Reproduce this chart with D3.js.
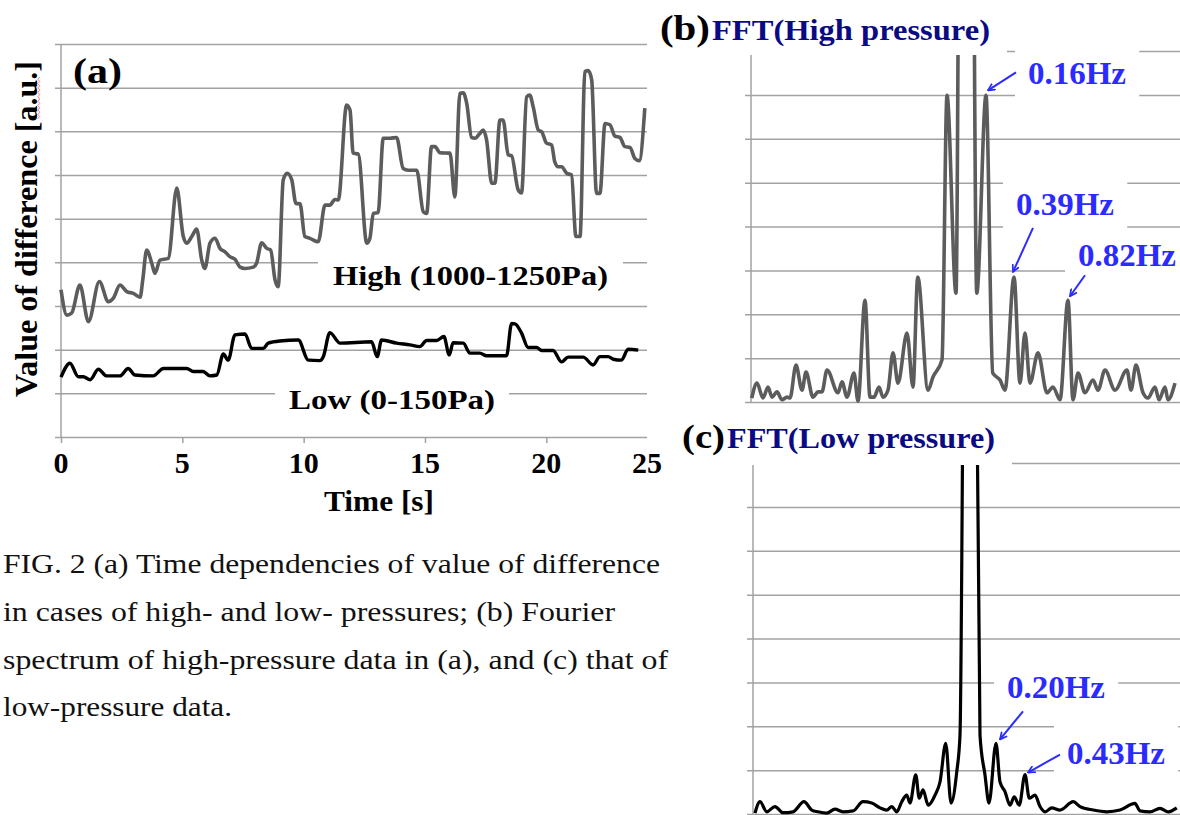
<!DOCTYPE html>
<html><head><meta charset="utf-8">
<script src="https://cdn.jsdelivr.net/npm/d3@7"></script>
<style>body{margin:0;background:#fff}svg{display:block}</style>
</head><body><svg id="chart" width="1180" height="815"></svg>
<script>
// ---------------- DATA ----------------
// (a) time series, time [s] and value of difference [a.u.]
const highT = [0,0.24,0.44,0.78,1.13,1.58,1.95,2.16,2.43,2.71,2.98,3.26,3.37,3.53,3.74,3.87,4.08,4.42,4.77,5.04,5.18,5.39,5.59,5.80,5.93,6.14,6.35,6.55,6.76,6.96,7.17,7.38,7.58,7.92,8.06,8.27,8.48,8.64,8.82,8.95,9.16,9.32,9.51,9.68,9.85,10.05,10.26,10.60,10.88,11.08,11.29,11.43,11.77,11.91,12.04,12.25,12.60,12.73,12.87,13.07,13.28,13.56,13.83,14.10,14.31,14.66,14.93,15.07,15.27,15.41,15.62,16.03,16.23,16.44,16.58,16.72,16.92,17.06,17.26,17.40,17.54,17.75,17.88,18.09,18.22,18.43,18.57,18.84,18.98,19.19,19.32,19.46,19.67,19.81,20.01,20.22,20.35,20.49,20.63,20.84,21.04,21.22,21.39,21.59,21.73,21.87,22.07,22.21,22.42,22.62,22.83,23.03,23.24,23.45,23.65,23.83,24.06];
const highV = [3.37,2.79,2.84,3.48,2.64,3.56,3.10,3.18,3.48,3.33,3.29,3.20,3.60,4.28,3.98,3.75,4.05,4.09,5.70,4.59,4.44,4.59,4.76,4.05,3.86,4.44,4.55,4.32,4.24,4.13,4.07,3.89,3.86,3.89,3.98,4.45,4.32,4.28,3.60,3.44,5.89,6.04,5.89,5.35,5.34,4.59,4.55,4.47,5.31,5.31,5.44,5.43,7.60,7.49,6.50,6.48,4.44,4.55,5.12,5.14,6.84,6.84,6.86,6.15,6.11,6.11,5.16,5.12,6.65,6.65,6.51,6.50,5.50,7.87,7.88,7.64,6.86,6.84,6.95,7.03,6.80,5.81,5.81,7.26,7.26,6.46,6.44,5.66,5.59,7.79,7.83,7.56,7.03,6.99,6.73,6.69,6.30,6.19,6.19,6.04,6.00,4.59,4.59,8.37,8.39,8.18,5.58,5.58,7.18,7.15,6.89,6.86,6.65,6.63,6.38,6.33,7.53];
const lowT = [0,0.37,0.71,0.92,1.20,1.54,1.88,2.43,2.77,3.05,3.80,4.22,5.18,5.45,5.86,6.14,6.42,6.69,6.89,7.17,7.58,7.86,8.34,8.54,9.02,9.78,10.19,10.67,10.81,11.08,11.50,12.80,13.03,13.21,13.83,14.38,14.79,15.07,15.48,15.78,16.00,16.16,16.58,16.85,17.26,17.54,18.36,18.57,18.71,18.98,19.25,19.60,19.81,20.28,20.63,20.90,21.52,21.93,22.21,22.55,22.76,23.10,23.37,23.79];
const lowV = [1.37,1.69,1.38,1.38,1.31,1.55,1.40,1.40,1.57,1.42,1.40,1.57,1.57,1.50,1.50,1.40,1.42,1.90,1.76,2.34,2.36,2.03,2.03,2.15,2.20,2.22,1.76,1.75,1.84,2.39,2.15,2.18,1.84,2.22,2.15,2.11,2.07,2.21,2.21,2.30,1.88,2.16,2.15,1.92,1.92,1.86,1.86,2.60,2.59,2.38,2.05,2.05,1.98,1.98,1.72,1.83,1.83,1.65,1.84,1.84,1.78,1.76,2.01,1.99];
const timeTickLabels = [0,5,10,15,20,25];
const valueTicks = [0,1,2,3,4,5,6,7,8,9];

// (b) FFT of high pressure data: frequency [Hz], amplitude [a.u.]
const freqB = [-1.714,-1.672,-1.624,-1.584,-1.552,-1.512,-1.472,-1.432,-1.408,-1.360,-1.312,-1.280,-1.224,-1.184,-1.152,-1.112,-1.024,-0.992,-0.952,-0.896,-0.864,-0.808,-0.768,-0.736,-0.696,-0.664,-0.624,-0.584,-0.544,-0.472,-0.424,-0.386,-0.304,-0.264,-0.192,-0.152,-0.080,-0.040,0,0.040,0.086,0.160,0.214,0.272,0.312,0.384,0.432,0.472,0.512,0.576,0.648,0.696,0.752,0.816,0.856,0.896,0.952,1.016,1.056,1.112,1.192,1.288,1.320,1.360,1.416,1.456,1.512,1.544,1.592,1.616,1.672];
const ampB = [0.09,0.43,0.09,0.34,0.11,0.23,0.05,0.11,0.09,0.84,0.27,0.68,0.11,0.23,0.23,0.73,0.21,0.46,0.11,0.66,0.02,2.32,0.11,0.11,0.34,0.11,0.27,1.12,0.43,1.57,0.34,2.85,0.27,0.57,0.96,6.99,2.48,18,15,18,2.48,6.99,0.66,0.50,0.27,2.85,0.43,1.57,0.43,1.12,0.21,0.34,0.05,2.32,0.05,0.66,0.21,0.50,0.27,0.73,0.27,0.73,0.27,0.84,0.21,0.09,0.34,0.05,0.34,0.05,0.43];
// (c) FFT of low pressure data
const freqC = [-1.72,-1.68,-1.626,-1.56,-1.496,-1.416,-1.328,-1.266,-1.216,-1.146,-1.08,-1.016,-0.936,-0.856,-0.786,-0.72,-0.666,-0.626,-0.586,-0.546,-0.506,-0.48,-0.434,-0.406,-0.376,-0.334,-0.28,-0.24,-0.194,-0.152,-0.106,-0.08,-0.04,0,0.04,0.08,0.12,0.152,0.208,0.24,0.28,0.32,0.354,0.394,0.44,0.474,0.52,0.56,0.6,0.654,0.72,0.826,0.88,0.986,1.094,1.2,1.32,1.36,1.44,1.52,1.586,1.654];
const ampC = [0.02,0.28,0.05,0.17,0.03,0.05,0.28,0.09,0.05,0.02,0.11,0.05,0.07,0.28,0.25,0.14,0.09,0.17,0.05,0.28,0.43,0.25,0.89,0.36,0.55,0.2,0.43,0.73,1.61,0.25,0.96,1.8,14,12,14,1.8,0.89,0.25,1.61,0.73,0.51,0.2,0.39,0.2,0.9,0.36,0.43,0.17,0.05,0.14,0.09,0.28,0.17,0.09,0.05,0.09,0.24,0.07,0.05,0.13,0.05,0.14];
const fftTicks = [0,1,2,3,4,5,6,7,8];

// annotated peaks (frequency, amplitude, label)
const peaksB = [{f:0.160,v:6.99,label:"0.16Hz"},{f:0.384,v:2.85,label:"0.39Hz"},{f:0.816,v:2.32,label:"0.82Hz"}];
const peaksC = [{f:0.208,v:1.61,label:"0.20Hz"},{f:0.440,v:0.90,label:"0.43Hz"}];

const captionLines = [
  "FIG. 2 (a) Time dependencies of value of difference",
  "in cases of high- and low- pressures; (b) Fourier",
  "spectrum of high-pressure data in (a), and (c) that of",
  "low-pressure data."
];

// ---------------- STYLE / LAYOUT ----------------
function pickFont(cands) {
  const c = document.createElement("canvas").getContext("2d");
  const s = "FIG. 2 (a) Time dependencies mmmwwwiiilll";
  for (const f of cands) {
    for (const fb of ["monospace","sans-serif"]) {
      c.font = `40px ${fb}`; const a = c.measureText(s).width;
      c.font = `40px "${f}", ${fb}`; const b = c.measureText(s).width;
      if (Math.abs(a-b) > 0.5) return f;
    }
  }
  return null;
}
const timesLike = pickFont(["Liberation Serif","Times New Roman","Tinos","Nimbus Roman","Nimbus Roman No9 L","FreeSerif","Times"]);
const SERIF = timesLike ? `"${timesLike}", serif` : `"DejaVu Serif", serif`;
const FS = timesLike ? 1 : 0.88;
const GRID = "#a2a2a2";
const BLUE = "#2b2bff";
const NAVY = "#0a0a84";

const svg = d3.select("#chart");
svg.append("rect").attr("width",1180).attr("height",815).attr("fill","#fff");
const defs = svg.append("defs");
defs.append("marker").attr("id","ah").attr("viewBox","0 0 10 10")
  .attr("refX",9).attr("refY",5).attr("markerWidth",8).attr("markerHeight",8)
  .attr("markerUnits","userSpaceOnUse").attr("orient","auto")
  .append("path").attr("d","M1,1 L9,5 L1,9").attr("fill","none")
  .attr("stroke",BLUE).attr("stroke-width",2.2).attr("stroke-linecap","round");

function text(g, s, x, y, o) {
  const t = g.append("text").attr("x",x).attr("y",y).text(s)
    .style("font-family",SERIF).attr("font-size",o.size*FS)
    .attr("font-weight",o.bold ? "bold" : "normal")
    .attr("fill",o.fill || "#000")
    .attr("text-anchor",o.anchor || "start");
  if (o.len) t.attr("textLength",o.len).attr("lengthAdjust","spacingAndGlyphs");
  if (o.transform) t.attr("transform",o.transform);
  return t;
}
function grid(g, yScale, ticks, x0, x1) {
  g.append("g").attr("transform",`translate(${x0},0)`)
    .call(d3.axisLeft(yScale).tickValues(ticks).tickSize(-(x1-x0)).tickFormat(""))
    .call(a=>a.select(".domain").remove())
    .call(a=>a.selectAll("line").attr("stroke",GRID).attr("stroke-width",1.5));
}
function boxBehind(boxLayer, t, px, py) {
  const b = t.node().getBBox();
  boxLayer.append("rect").attr("x",b.x-px).attr("y",b.y-py)
    .attr("width",b.width+2*px).attr("height",b.height+2*py).attr("fill","#fff");
}

// ================= Panel (a) =================
const xA = d3.scaleLinear().domain([0,24.15]).range([61,647]);
const yA = d3.scaleLinear().domain([0,9]).range([437,44]);
const gA = svg.append("g");
grid(gA, yA, valueTicks, 55, 647);
gA.append("line").attr("x1",xA(0)).attr("x2",xA(0)).attr("y1",yA(9)).attr("y2",yA(0))
  .attr("stroke",GRID).attr("stroke-width",1.5);
gA.append("g").attr("transform",`translate(0,${yA(0)})`)
  .call(d3.axisBottom(xA).tickValues(timeTickLabels.filter(v=>v<=24.15)).tickSize(6).tickFormat(""))
  .call(a=>a.select(".domain").remove())
  .call(a=>a.selectAll("line").attr("stroke",GRID).attr("stroke-width",1.5));
const boxA = gA.append("g");
const curveA = gA.append("g");
const textA = gA.append("g");

const lineA = d3.line().x(d=>xA(d[0])).y(d=>yA(d[1])).curve(d3.curveMonotoneX);
curveA.append("path").datum(d3.zip(highT,highV)).attr("d",lineA)
  .attr("fill","none").attr("stroke","#5c5c5c").attr("stroke-width",3.6).attr("stroke-linejoin","round");
curveA.append("path").datum(d3.zip(lowT,lowV)).attr("d",lineA)
  .attr("fill","none").attr("stroke","#000").attr("stroke-width",3.4).attr("stroke-linejoin","round");

const hiLab = text(textA,"High (1000-1250Pa)",333,285,{size:27,bold:true,len:275});
boxBehind(boxA, hiLab, 15, 4);
const loLab = text(textA,"Low (0-150Pa)",289,409,{size:27,bold:true,len:206});
boxBehind(boxA, loLab, 14, 4);

text(textA,"(a)",73,83,{size:35,bold:true,len:49});
timeTickLabels.forEach(v=>{
  text(textA,String(v),Math.min(xA(v),xA.range()[1]),473,{size:30,bold:true,anchor:"middle"});
});
text(textA,"Time [s]",379,511,{size:30,bold:true,anchor:"middle",len:110});
text(textA,"Value of difference [a.u.]",0,0,{size:32,bold:true,anchor:"middle",len:336,
  transform:"translate(37,229) rotate(-90)"});
// spell-check squiggle under "a.u."
{
  const pts = d3.range(77,121,2.2).map((y,i)=>[i%2 ? 37.8 : 39.8, y]);
  textA.append("path").attr("d",d3.line()(pts)).attr("fill","none")
    .attr("stroke","#f07070").attr("stroke-width",0.9);
}

// ================= Panel (b) =================
const xB = d3.scaleLinear().domain([-1.72,1.72]).range([751,1181]);
const yB = d3.scaleLinear().domain([0,8]).range([402,51]);
const gB = svg.append("g");
grid(gB, yB, fftTicks, 745, 1180);
gB.append("line").attr("x1",751).attr("x2",751).attr("y1",yB(8)).attr("y2",yB(0))
  .attr("stroke",GRID).attr("stroke-width",1.5);
const boxB = gB.append("g");
const curveB = gB.append("g");
const textB = gB.append("g");
defs.append("clipPath").attr("id","clipB").append("rect")
  .attr("x",745).attr("y",yB(8)+4).attr("width",440).attr("height",yB(0)-yB(8));
const lineB = d3.line().x(d=>xB(d[0])).y(d=>yB(d[1])).curve(d3.curveMonotoneX);
curveB.append("path").datum(d3.zip(freqB,ampB)).attr("d",lineB).attr("clip-path","url(#clipB)")
  .attr("fill","none").attr("stroke","#5c5c5c").attr("stroke-width",3.6).attr("stroke-linejoin","round");

text(textB,"(b)",660,40,{size:35,bold:true,len:50});
text(textB,"FFT(High pressure)",712,40,{size:30,bold:true,fill:NAVY,len:278});
boxB.append("rect").attr("x",650).attr("y",0).attr("width",1007-650).attr("height",yB(8)+4).attr("fill","#fff");

// ================= Panel (c) =================
const xC = d3.scaleLinear().domain([-1.736,1.704]).range([753,1183]);
const yC = d3.scaleLinear().domain([0,8]).range([814,463]);
const gC = svg.append("g");
grid(gC, yC, fftTicks, 747, 1180);
gC.append("line").attr("x1",753).attr("x2",753).attr("y1",yC(8)).attr("y2",yC(0))
  .attr("stroke",GRID).attr("stroke-width",1.5);
const boxC = gC.append("g");
const curveC = gC.append("g");
const textC = gC.append("g");
defs.append("clipPath").attr("id","clipC").append("rect")
  .attr("x",747).attr("y",yC(8)+2).attr("width",440).attr("height",yC(0)-yC(8)+4);
const lineC = d3.line().x(d=>xC(d[0])).y(d=>yC(d[1])).curve(d3.curveMonotoneX);
curveC.append("path").datum(d3.zip(freqC,ampC)).attr("d",lineC).attr("clip-path","url(#clipC)")
  .attr("fill","none").attr("stroke","#000").attr("stroke-width",3.2).attr("stroke-linejoin","round");

text(textC,"(c)",682,448,{size:33,bold:true,len:43});
text(textC,"FFT(Low pressure)",727,448,{size:30,bold:true,fill:NAVY,len:268});
boxC.append("rect").attr("x",668).attr("y",418).attr("width",1012-668).attr("height",yC(8)+2-418).attr("fill","#fff");

// ---------------- peak annotations ----------------
const layoutB = [
  {tip:[2,-5], tail:[30,-23], txt:[42,-11]},
  {tip:[-1,-5], tail:[19,-49], txt:[2,-62]},
  {tip:[2,-4], tail:[17,-25], txt:[10,-34]}
];
const layoutC = [
  {tip:[4,-4], tail:[27,-32], txt:[11,-45]},
  {tip:[3,-2], tail:[35,-20], txt:[42,-11]}
];
function annotate(peaks, layout, xs, ys, boxLayer, textLayer) {
  peaks.forEach((p,i)=>{
    const L = layout[i], px = xs(p.f), py = ys(p.v);
    const t = text(textLayer,p.label,px+L.txt[0],py+L.txt[1],{size:31,bold:true,fill:BLUE,len:98});
    boxBehind(boxLayer, t, 13, 10);
    textLayer.append("line")
      .attr("x1",px+L.tail[0]).attr("y1",py+L.tail[1])
      .attr("x2",px+L.tip[0]).attr("y2",py+L.tip[1])
      .attr("stroke",BLUE).attr("stroke-width",2).attr("marker-end","url(#ah)");
  });
}
annotate(peaksB, layoutB, xB, yB, boxB, textB);
annotate(peaksC, layoutC, xC, yC, boxC, textC);

// ---------------- caption ----------------
const capLens = [657,612,665,229];
const gCap = svg.append("g");
captionLines.forEach((s,i)=>{
  text(gCap,s,3,573+i*47.8,{size:28,fill:"#111",len:capLens[i]});
});
</script></body></html>
